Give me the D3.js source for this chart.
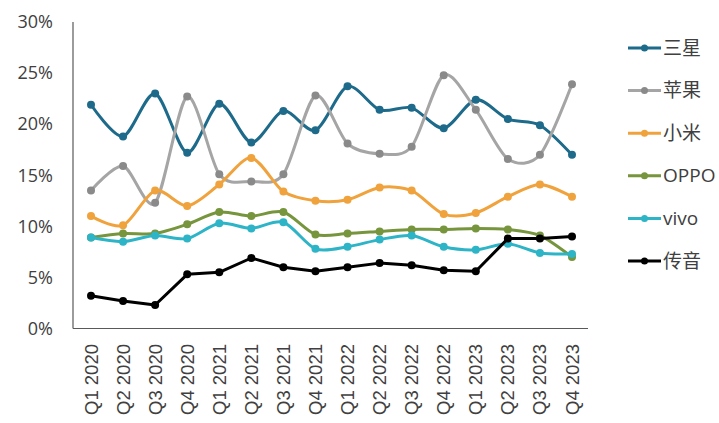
<!DOCTYPE html>
<html>
<head>
<meta charset="utf-8">
<script src="https://cdn.jsdelivr.net/npm/d3@7"></script>
<style>
  body { margin: 0; background: #fff; }
  svg text { font-family: "Open Sans", "Noto Sans CJK SC", sans-serif; fill: #404040; }
</style>
</head>
<body>
<div id="chart"></div>
<script>
var quarters = ["Q1 2020", "Q2 2020", "Q3 2020", "Q4 2020", "Q1 2021", "Q2 2021", "Q3 2021", "Q4 2021",
                "Q1 2022", "Q2 2022", "Q3 2022", "Q4 2022", "Q1 2023", "Q2 2023", "Q3 2023", "Q4 2023"];
var brands = ["三星", "苹果", "小米", "OPPO", "vivo", "传音"];
var samsung = [21.9, 18.8, 23.0, 17.2, 22.0, 18.2, 21.3, 19.4, 23.7, 21.4, 21.6, 19.6, 22.4, 20.5, 19.9, 17.0];
var apple   = [13.5, 15.9, 12.3, 22.7, 15.1, 14.4, 15.1, 22.8, 18.1, 17.1, 17.8, 24.8, 21.4, 16.6, 17.0, 23.9];
var xiaomi  = [11.0, 10.1, 13.5, 12.0, 14.1, 16.7, 13.4, 12.5, 12.6, 13.8, 13.5, 11.2, 11.3, 12.9, 14.1, 12.9];
var oppo    = [8.9, 9.3, 9.3, 10.2, 11.4, 11.0, 11.4, 9.2, 9.3, 9.5, 9.7, 9.7, 9.8, 9.7, 9.1, 7.0];
var vivo    = [8.9, 8.5, 9.1, 8.8, 10.3, 9.8, 10.4, 7.8, 8.0, 8.7, 9.1, 8.0, 7.7, 8.3, 7.4, 7.3];
var transsion = [3.2, 2.7, 2.3, 5.3, 5.5, 6.9, 6.0, 5.6, 6.0, 6.4, 6.2, 5.7, 5.6, 8.8, 8.8, 9.0];
var yTicks = [0, 5, 10, 15, 20, 25, 30];

var seriesValues = [samsung, apple, xiaomi, oppo, vivo, transsion];
var colors = ["#1d6a8a", "#a5a5a5", "#f0a23c", "#76953d", "#2db4c6", "#000000"];
var markerColors = ["#1d6a8a", "#8a8a8a", "#f0a23c", "#76953d", "#2db4c6", "#000000"];

var W = 719, H = 423;
var svg = d3.select("#chart").append("svg").attr("width", W).attr("height", H);

var x = d3.scalePoint().domain(quarters).range([91, 572]);
var y = d3.scaleLinear().domain([0, 30]).range([328.5, 22]);

// axes lines
svg.append("line").attr("x1", 73).attr("x2", 73).attr("y1", y(30)).attr("y2", y(0))
  .style("stroke", "#595959").style("stroke-width", 1.2);
svg.append("line").attr("x1", 73).attr("x2", 588).attr("y1", y(0)).attr("y2", y(0))
  .style("stroke", "#595959").style("stroke-width", 1.2);

// y tick labels
svg.selectAll(".ytick").data(yTicks).enter().append("text")
  .attr("x", 53).attr("y", function(d) { return y(d); })
  .attr("dy", "0.35em").attr("text-anchor", "end")
  .style("font-size", "18px").text(function(d) { return d + "%"; });

// x tick labels
svg.selectAll(".xtick").data(quarters).enter().append("text")
  .attr("transform", function(d) { return "translate(" + (x(d) + 6.5) + ",344) rotate(-90)"; })
  .attr("text-anchor", "end")
  .style("font-family", "'Liberation Sans', Arial, sans-serif")
  .style("font-size", "18.5px").text(function(d) { return d; });

// lines
seriesValues.forEach(function(vals, i) {
  var line = d3.line()
    .x(function(d, j) { return x(quarters[j]); })
    .y(function(d) { return y(d); })
    .curve(i == 5 ? d3.curveLinear : d3.curveCardinal.tension(0.15));
  svg.append("path").datum(vals).attr("d", line)
    .style("fill", "none").style("stroke", colors[i]).style("stroke-width", 3)
    .style("stroke-linejoin", "round");
  svg.selectAll(".m" + i).data(vals).enter().append("circle")
    .attr("cx", function(d, j) { return x(quarters[j]); })
    .attr("cy", function(d) { return y(d); })
    .attr("r", 4).style("fill", markerColors[i]);
});

// legend
brands.forEach(function(b, i) {
  var ly = 48 + i * 42.6;
  svg.append("line").attr("x1", 628).attr("x2", 661).attr("y1", ly).attr("y2", ly)
    .style("stroke", colors[i]).style("stroke-width", 3);
  svg.append("circle").attr("cx", 644.5).attr("cy", ly).attr("r", 3.5).style("fill", markerColors[i]);
  svg.append("text").attr("x", 663).attr("y", ly).attr("dy", "0.35em")
    .style("font-size", "19px").text(b);
});
</script>
</body>
</html>
